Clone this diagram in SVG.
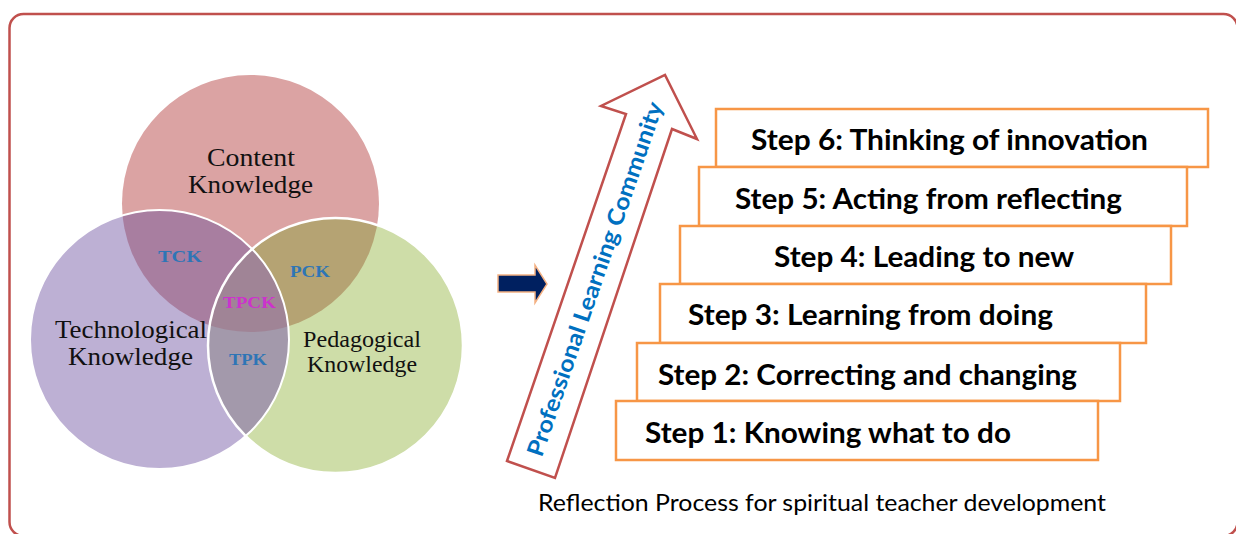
<svg xmlns="http://www.w3.org/2000/svg" width="1236" height="534" viewBox="0 0 1236 534">
<style>
.venn{font-family:"Liberation Serif","Times New Roman",serif;fill:#111111;text-anchor:middle}
.lab{font-family:"Liberation Serif","Times New Roman",serif;font-weight:bold;font-size:17px;text-anchor:middle;fill:#2e75b6}
.box{fill:#ffffff;stroke:#f79646;stroke-width:2.5}
.step{font-family:Lato,"Open Sans","Liberation Sans",sans-serif;font-weight:bold;font-size:29px;fill:#000}
.cap{font-family:Lato,"Open Sans","Liberation Sans",sans-serif;font-size:23px;fill:#000}
</style>
<defs>
<clipPath id="clipT"><circle cx="159.5" cy="339.5" r="129.5"/></clipPath>
<clipPath id="clipP"><circle cx="335.5" cy="345.5" r="127.5"/></clipPath>
</defs>
<rect id="frame" x="9.5" y="14" width="1228" height="522" rx="14" fill="none" stroke="#c0504d" stroke-width="2.5"/>
<g id="content"><circle cx="250.5" cy="203.5" r="128.5" fill="#dba3a3"/></g>
<g id="technological"><circle cx="159.5" cy="339.5" r="129.5" fill="#bdb0d4"/></g>
<g id="pedagogical"><circle cx="335.5" cy="345.5" r="127.5" fill="#cedda8"/></g>
<g id="tck"><circle cx="250.5" cy="203.5" r="128.5" fill="#a87ea0" clip-path="url(#clipT)"/></g>
<g id="pck"><circle cx="250.5" cy="203.5" r="128.5" fill="#b5a373" clip-path="url(#clipP)"/></g>
<g id="tpk"><circle cx="159.5" cy="339.5" r="129.5" fill="#a399ab" clip-path="url(#clipP)"/></g>
<g id="tpck"><g clip-path="url(#clipP)"><circle cx="250.5" cy="203.5" r="128.5" fill="#a08496" clip-path="url(#clipT)"/></g></g>
<g id="outlines" fill="none" stroke="#ffffff">
<circle cx="159.5" cy="339.5" r="129.5" stroke-width="2"/>
<circle cx="335.5" cy="345.5" r="127.5" stroke-width="2.5"/>
</g>
<g id="venn-labels">
<text class="venn" x="251" y="166" font-size="26" textLength="88" lengthAdjust="spacingAndGlyphs">Content</text>
<text class="venn" x="250.5" y="193" font-size="26" textLength="125" lengthAdjust="spacingAndGlyphs">Knowledge</text>
<text class="venn" x="131" y="338" font-size="26" textLength="152" lengthAdjust="spacingAndGlyphs">Technological</text>
<text class="venn" x="130.5" y="365" font-size="26" textLength="125" lengthAdjust="spacingAndGlyphs">Knowledge</text>
<text class="venn" x="362" y="347" font-size="24" textLength="118" lengthAdjust="spacingAndGlyphs">Pedagogical</text>
<text class="venn" x="362" y="372" font-size="24" textLength="110" lengthAdjust="spacingAndGlyphs">Knowledge</text>
<text class="lab" x="180" y="262" textLength="44" lengthAdjust="spacingAndGlyphs">TCK</text>
<text class="lab" x="310" y="277" textLength="40" lengthAdjust="spacingAndGlyphs">PCK</text>
<text class="lab" x="249.5" y="308" textLength="53" lengthAdjust="spacingAndGlyphs" style="fill:#cc33cc">TPCK</text>
<text class="lab" x="248" y="365" textLength="38" lengthAdjust="spacingAndGlyphs">TPK</text>
</g>
<g id="connectors">
<polygon points="498,275 535,275 535,265 547,284 535,303 535,292 498,292" fill="#002060" stroke="#f4b183" stroke-width="1.5" stroke-linejoin="miter"/>
</g>
<g id="plc-arrow">
<polygon points="507,461 626,114 601,106 665,75 697,139 672,129 555,478" fill="#ffffff" stroke="#c0504d" stroke-width="2.5" stroke-linejoin="miter"/>
<text transform="translate(595,279) rotate(-71)" dy="8" text-anchor="middle" font-family="Lato,'Open Sans','Liberation Sans',sans-serif" font-weight="bold" font-size="23" fill="#0070c0" textLength="373" lengthAdjust="spacingAndGlyphs">Professional Learning Community</text>
</g>
<g id="step6"><rect class="box" x="716" y="109" width="492" height="58"/><text class="step" x="751" y="150" textLength="397" lengthAdjust="spacingAndGlyphs">Step 6: Thinking of innovation</text></g>
<g id="step5"><rect class="box" x="699" y="167" width="488" height="59"/><text class="step" x="735" y="209" textLength="387" lengthAdjust="spacingAndGlyphs">Step 5: Acting from reflecting</text></g>
<g id="step4"><rect class="box" x="680" y="226" width="491" height="58"/><text class="step" x="774" y="267" textLength="300" lengthAdjust="spacingAndGlyphs">Step 4: Leading to new</text></g>
<g id="step3"><rect class="box" x="660" y="284" width="486" height="59"/><text class="step" x="688" y="325" textLength="365" lengthAdjust="spacingAndGlyphs">Step 3: Learning from doing</text></g>
<g id="step2"><rect class="box" x="637" y="343" width="483" height="58"/><text class="step" x="658" y="385" textLength="419" lengthAdjust="spacingAndGlyphs">Step 2: Correcting and changing</text></g>
<g id="step1"><rect class="box" x="616" y="401" width="482" height="59"/><text class="step" x="645" y="443" textLength="366" lengthAdjust="spacingAndGlyphs">Step 1: Knowing what to do</text></g>
<g id="caption"><text class="cap" x="538" y="511" textLength="568" lengthAdjust="spacingAndGlyphs">Reflection Process for spiritual teacher development</text></g>
</svg>
